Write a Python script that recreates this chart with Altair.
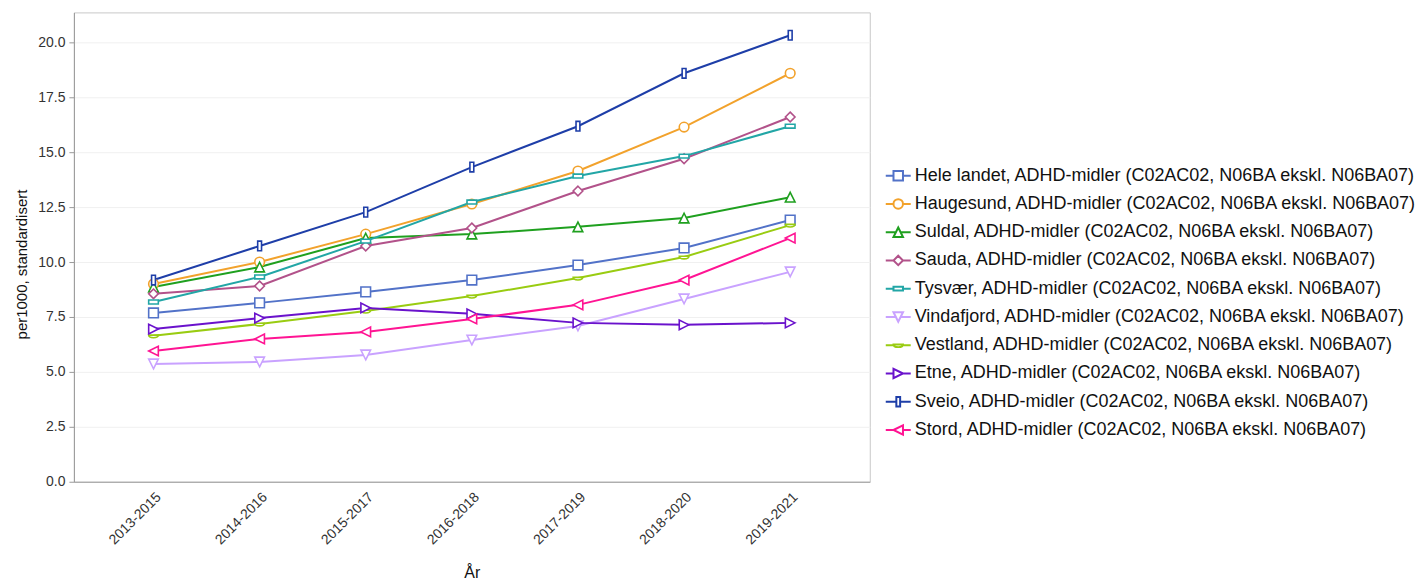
import altair as alt
import pandas as pd

years = ["2013-2015", "2014-2016", "2015-2017", "2016-2018", "2017-2019", "2018-2020", "2019-2021"]
names = ["Hele landet", "Haugesund", "Suldal", "Sauda", "Tysvær", "Vindafjord", "Vestland", "Etne", "Sveio", "Stord"]
suffix = ", ADHD-midler (C02AC02, N06BA ekskl. N06BA07)"

hele_landet = [7.68, 8.14, 8.64, 9.18, 9.86, 10.64, 11.91]
haugesund = [9.00, 10.00, 11.27, 12.64, 14.14, 16.14, 18.59]
suldal = [8.86, 9.77, 11.09, 11.27, 11.60, 12.00, 12.95]
sauda = [8.55, 8.91, 10.73, 11.55, 13.23, 14.70, 16.60]
tysvaer = [8.18, 9.32, 10.95, 12.73, 13.91, 14.82, 16.18]
vindafjord = [5.36, 5.45, 5.77, 6.45, 7.09, 8.32, 9.55]
vestland = [6.64, 7.18, 7.77, 8.45, 9.27, 10.23, 11.68]
etne = [6.95, 7.45, 7.91, 7.64, 7.23, 7.14, 7.23]
sveio = [9.18, 10.73, 12.27, 14.32, 16.18, 18.59, 20.32]
stord = [5.95, 6.50, 6.82, 7.41, 8.05, 9.18, 11.09]

series_values = [hele_landet, haugesund, suldal, sauda, tysvaer, vindafjord, vestland, etne, sveio, stord]
colors = ["#5272C8", "#F2A22C", "#1FA01F", "#B2528A", "#22A6A6", "#C9A2FF", "#99CC11", "#6A12CC", "#1E3EA8", "#FF1493"]
y_ticks = [0, 2.5, 5, 7.5, 10, 12.5, 15, 17.5, 20]

labels = [n + suffix for n in names]
rows = []
for lab, vals in zip(labels, series_values):
    for yr, v in zip(years, vals):
        rows.append({"År": yr, "verdi": v, "serie": lab})
df = pd.DataFrame(rows)


def n(v):
    return f"{v:.3f}"


def square(s):
    return f"M{n(-s)},{n(-s)}H{n(s)}V{n(s)}H{n(-s)}Z"


def circle(s):
    return f"M{n(-s)},0A{n(s)},{n(s)} 0 1,0 {n(s)},0A{n(s)},{n(s)} 0 1,0 {n(-s)},0Z"


def tri_up(s):
    return f"M0,{n(-s)}L{n(s)},{n(s)}L{n(-s)},{n(s)}Z"


def diamond(s):
    return f"M0,{n(-s)}L{n(s)},0L0,{n(s)}L{n(-s)},0Z"


def hrect(s):
    return f"M{n(-s)},{n(-0.4*s)}H{n(s)}V{n(0.4*s)}H{n(-s)}Z"


def tri_down(s):
    return f"M0,{n(s)}L{n(s)},{n(-s)}L{n(-s)},{n(-s)}Z"


def lens(s):
    return f"M{n(-s)},{n(-0.15*s)}H{n(s)}A{n(s)},{n(0.55*s)} 0 0,1 {n(-s)},{n(-0.15*s)}Z"


def tri_right(s):
    return f"M{n(s)},0L{n(-s)},{n(-s)}L{n(-s)},{n(s)}Z"


def vrect(s):
    return f"M{n(-0.4*s)},{n(-s)}H{n(0.4*s)}V{n(s)}H{n(-0.4*s)}Z"


def tri_left(s):
    return f"M{n(-s)},0L{n(s)},{n(-s)}L{n(s)},{n(s)}Z"


markers = [(square, 1.0), (circle, 1.0), (tri_up, 0.5), (diamond, 1.0), (hrect, 1.0),
           (tri_down, 0.5), (lens, 1.0), (tri_right, 1.0), (vrect, 0.4), (tri_left, 1.0)]

chart_shapes = [m(0.92) for m, g in markers]
ls = 0.38
legend_shapes = [f"M-1,0H{n(-g*ls)}M{n(g*ls)},0H1" + m(ls) for m, g in markers]

font = "Liberation Sans"

x_enc = alt.X("År:N", scale=alt.Scale(type="point", padding=0.75, domain=years),
              axis=alt.Axis(labelAngle=315, ticks=False, grid=False, title="År",
                            labelFontSize=14, titleFontSize=16, titlePadding=18, labelPadding=8))
y_enc = alt.Y("verdi:Q", scale=alt.Scale(domain=[0, 21.36], nice=False, zero=True),
              axis=alt.Axis(values=y_ticks, format=".1f", title="per1000, standardisert",
                            labelFontSize=14, titleFontSize=15, tickSize=5, labelPadding=4,
                            titlePadding=8, titleY=252))

base = alt.Chart(df).encode(x=x_enc, y=y_enc)

color_scale = alt.Scale(domain=labels, range=colors)

lines = base.mark_line(strokeWidth=2).encode(
    color=alt.Color("serie:N", scale=color_scale, legend=None)
)

points = base.mark_point(filled=False, fill="white", size=110, strokeWidth=1.6, opacity=1).encode(
    color=alt.Color("serie:N", scale=color_scale, legend=None),
    shape=alt.Shape("serie:N", scale=alt.Scale(domain=labels, range=chart_shapes), legend=None),
)

leg = dict(orient="none", legendX=812, legendY=150, title=None, labelFont=font,
           labelFontSize=18, labelColor="#111111", labelLimit=1000, symbolSize=625,
           symbolStrokeWidth=2, symbolOpacity=1, rowPadding=5.3, labelOffset=3, padding=0)

legend_layer = base.mark_point(filled=False, strokeWidth=2, opacity=1).encode(
    color=alt.Color("serie:N", scale=color_scale, legend=alt.Legend(**leg)),
    shape=alt.Shape("serie:N", scale=alt.Scale(domain=labels, range=legend_shapes),
                    legend=alt.Legend(**leg)),
).transform_filter("false")

chart = alt.layer(lines, points, legend_layer).resolve_scale(
    color="independent", shape="independent"
).properties(
    width=797, height=470,
    padding={"left": 6, "top": 4, "right": 0, "bottom": 0},
).configure_view(
    stroke="#c8c8c8", strokeWidth=1
).configure_axis(
    labelFont=font, titleFont=font, labelColor="#333333", titleColor="#111111",
    titleFontWeight="normal", domainColor="#999999", tickColor="#999999",
    gridColor="#f0f0f0"
).configure_legend(
    labelFont=font
)

chart.save("out.html", embed_options={"renderer": "svg", "actions": False})
